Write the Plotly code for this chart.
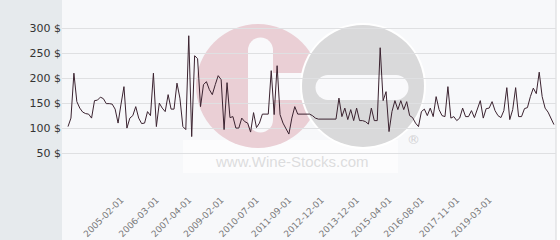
import plotly.graph_objects as go

# ---- data ----
prices = [
    103, 120, 210, 153, 140, 132, 129, 128, 120, 155, 156, 162, 159, 149, 149, 148, 138, 110, 148, 183,
    100, 120, 125, 143, 120, 109, 110, 133, 125, 210, 103, 150, 140,
    133, 167, 138, 138, 190, 160, 103, 97, 285, 83, 245, 239, 143, 187, 193, 177, 167, 187, 205, 197,
    97, 191, 121, 123, 100, 100, 120, 113, 110, 92, 131, 101, 110,
    128, 128, 128, 215, 127, 225, 127, 110, 98, 88, 120, 143, 128, 128, 128, 128, 128, 125, 120, 118,
    118, 118, 118, 118, 118, 118, 160, 123, 140, 117, 137, 115, 140,
    115, 115, 113, 108, 140, 115, 115, 261, 155, 173, 93, 133, 155, 137, 155, 137, 153, 125, 121, 110,
    103, 133, 138, 125, 140, 123, 163, 137, 125, 123, 183, 120, 123, 115,
    120, 140, 123, 123, 135, 121, 137, 155, 120, 139, 140, 153, 135, 125, 121, 135, 181, 117, 137, 181,
    123, 123, 139, 141, 163, 180, 169, 212, 163, 140, 132, 118, 107,
]
points = list(range(len(prices)))
tick_points = [18, 30, 41, 52, 64, 75, 86, 98, 109, 120, 132, 143]
tick_labels = ["2005-02-01", "2006-03-01", "2007-04-01", "2009-02-01", "2010-07-01", "2011-09-01",
               "2012-12-01", "2013-12-01", "2015-04-01", "2016-08-01", "2017-11-01", "2019-03-01"]
y_ticks = [0, 50, 100, 150, 200, 250, 300]
y_labels = ["", "50 $", "100 $", "150 $", "200 $", "250 $", "300 $"]

# ---- layout geometry (pixels) ----
W, H = 560, 240
L, R, T, B = 62, 4, 0, 62
PW, PH = W - L - R, H - T - B
X_RANGE = [-2.04, 165.7]
Y_RANGE = [0, 356.6]


def px(x):
    return (x - L) / PW


def py(y):
    return 1 - (y - T) / PH


def dx(x):
    return X_RANGE[0] + (x - L) / PW * (X_RANGE[1] - X_RANGE[0])


def dy(y):
    return Y_RANGE[0] + (1 - (y - T) / PH) * (Y_RANGE[1] - Y_RANGE[0])


fig = go.Figure()
fig.add_trace(go.Scatter(x=points, y=prices, mode="lines",
                         line=dict(color="#3b2330", width=1), hoverinfo="skip"))

shapes = []
# left grey panel
shapes.append(dict(type="rect", xref="paper", yref="paper", x0=px(0), x1=px(L), y0=py(H), y1=py(0),
                   fillcolor="#e6eaed", line=dict(width=0), layer="below"))
# right white strip
shapes.append(dict(type="rect", xref="paper", yref="paper", x0=px(556), x1=px(W + 2), y0=py(H), y1=py(0),
                   fillcolor="#ffffff", line=dict(width=0), layer="below"))
shapes.append(dict(type="line", xref="paper", yref="paper", x0=px(556), x1=px(556), y0=py(H), y1=py(0),
                   line=dict(color="#d6d8da", width=1), layer="below"))


# watermark (drawn beneath the gridlines, in the plot's own layer)
def circ(cx, cy, r, color):
    return dict(type="circle", xref="x", yref="y", x0=dx(cx - r), x1=dx(cx + r),
                y0=dy(cy + r), y1=dy(cy - r), fillcolor=color, line=dict(width=0), layer="below")


def rect(x0, y0, x1, y1, color):
    return dict(type="rect", xref="x", yref="y", x0=dx(x0), x1=dx(x1),
                y0=dy(y1), y1=dy(y0), fillcolor=color, line=dict(width=0), layer="below")


pink = "#eacfd5"
grey = "#d9d9da"
white = "#f9f9fb"
shapes.append(rect(183, 140, 398, 173, "rgba(255,255,255,0.6)"))
shapes.append(circ(258, 86, 62, pink))
shapes.append(rect(248, 50, 273, 120, white))
shapes.append(circ(260.5, 50, 12.5, white))
shapes.append(circ(260.5, 120, 12.5, white))
shapes.append(rect(260, 73, 305, 100, white))
shapes.append(circ(363, 86, 63, "#ffffff"))
shapes.append(circ(363, 86, 61, grey))
shapes.append(rect(328, 75, 396, 100, white))
shapes.append(circ(328, 87.5, 12.5, white))
shapes.append(circ(396, 87.5, 12.5, white))

fig.update_layout(
    width=W, height=H,
    margin=dict(l=L, r=R, t=T, b=B, pad=0),
    paper_bgcolor="#f7f8fa", plot_bgcolor="rgba(0,0,0,0)",
    showlegend=False,
    shapes=shapes,
    font=dict(family="DejaVu Sans"),
    annotations=[
        dict(text="www.Wine-Stocks.com", xref="paper", yref="paper", x=px(292), y=py(161),
             showarrow=False, font=dict(family="Liberation Sans", size=15, color="#dcdcde"),
             xanchor="center", yanchor="middle"),
        dict(text="®", xref="paper", yref="paper", x=px(413), y=py(139),
             showarrow=False, font=dict(family="DejaVu Sans", size=13, color="#d2d2d4"),
             xanchor="center", yanchor="middle"),
    ],
)
fig.update_xaxes(range=X_RANGE, tickmode="array", tickvals=tick_points, ticktext=tick_labels,
                 tickangle=-45, tickfont=dict(size=9, color="#7a7a7a"), showgrid=False,
                 zeroline=False, showline=False, ticks="", ticklabelstandoff=14)
fig.update_yaxes(range=Y_RANGE, tickmode="array", tickvals=y_ticks, ticktext=y_labels,
                 tickfont=dict(size=11, color="#333333"), showgrid=True, gridcolor="#dfe0e2",
                 gridwidth=1, zeroline=False, showline=False, ticks="")

fig.write_html("out.html")
